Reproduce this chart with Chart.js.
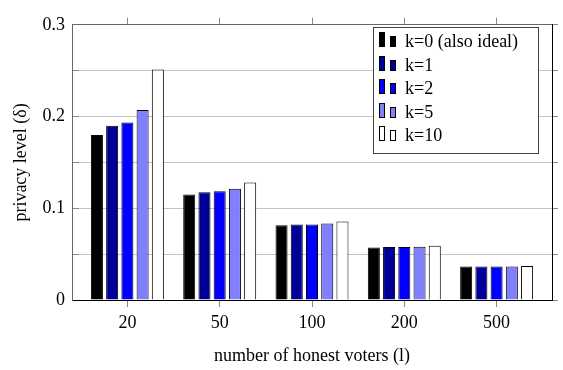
<!DOCTYPE html>
<html>
<head>
<meta charset="utf-8">
<script src="https://cdn.jsdelivr.net/npm/chart.js@4.4.1/dist/chart.umd.min.js"></script>
<style>
  body { margin: 0; background: #fff; }
  canvas { display: block; }
</style>
</head>
<body>
<canvas id="chart" width="563" height="370"></canvas>
<script>
// Données du graphique
const categories = ['20', '50', '100', '200', '500'];
const seriesLabels = ['k=0 (also ideal)', 'k=1', 'k=2', 'k=5', 'k=10'];
const k0 = [0.180, 0.115, 0.0814, 0.0573, 0.0364];
const k1 = [0.190, 0.1175, 0.0824, 0.0577, 0.0364];
const k2 = [0.1934, 0.1186, 0.0824, 0.0577, 0.0364];
const k5 = [0.207, 0.1213, 0.0835, 0.058, 0.0364];
const k10 = [0.2512, 0.128, 0.0855, 0.0592, 0.037];
const yTicks = [0, 0.05, 0.1, 0.15, 0.2, 0.25, 0.3];
const yLabelTicks = [0, 0.1, 0.2, 0.3];

const seriesValues = [k0, k1, k2, k5, k10];
const seriesColors = ['#000000', '#000099', '#0000ff', '#8080ff', '#ffffff'];

const FONT = { family: '"Liberation Serif", "Times New Roman", serif', size: 18 };

// Ticks des catégories (axe x numérique, une unité par groupe)
const categoryTicks = (scale) => {
  scale.ticks = categories.map((_, i) => ({ value: i }));
};
const valueTicks = (scale) => {
  scale.ticks = yTicks.map(v => ({ value: v }));
};

// Légende dessinée dans la zone du graphique (style pgfplots)
const insideLegend = {
  id: 'insideLegend',
  afterDraw(chart) {
    const ctx = chart.ctx;
    const box = { x: 373, y: 27, w: 165, h: 126 };
    ctx.save();
    ctx.fillStyle = '#ffffff';
    ctx.fillRect(box.x, box.y, box.w, box.h);
    ctx.strokeStyle = '#444444';
    ctx.lineWidth = 1;
    ctx.strokeRect(box.x + 0.5, box.y + 0.5, box.w, box.h);

    ctx.font = `${FONT.size}px ${FONT.family}`;
    ctx.textBaseline = 'alphabetic';
    ctx.textAlign = 'left';
    chart.data.datasets.forEach((ds, i) => {
      const base = Math.round(47 + i * 23.5);
      ctx.fillStyle = ds.backgroundColor;
      ctx.strokeStyle = '#000000';
      ctx.fillRect(379, base - 15, 6, 15);
      ctx.strokeRect(379.5, base - 15 + 0.5, 5, 14);
      ctx.fillRect(390, base - 11, 6, 11);
      ctx.strokeRect(390.5, base - 11 + 0.5, 5, 10);
      ctx.fillStyle = '#000000';
      ctx.fillText(ds.label, 405, base);
    });
    ctx.restore();
  }
};

const datasets = seriesValues.map((values, i) => ({
  label: seriesLabels[i],
  data: values.map((v, j) => ({ x: j, y: v })),
  backgroundColor: seriesColors[i],
  borderColor: '#000000',
  borderWidth: 1,
  categoryPercentage: 0.825,
  barPercentage: 0.79,
  xAxisID: 'x',
  yAxisID: 'y'
}));

new Chart(document.getElementById('chart'), {
  type: 'bar',
  data: { datasets: datasets },
  options: {
    responsive: false,
    animation: false,
    devicePixelRatio: 1,
    layout: { padding: 0 },
    plugins: {
      legend: { display: false },
      tooltip: { enabled: false }
    },
    scales: {
      x: {
        type: 'linear',
        position: 'bottom',
        min: -0.6,
        max: 4.6,
        offset: false,
        afterBuildTicks: categoryTicks,
        afterFit: (s) => { s.height = 70; },
        grid: { offset: false, drawOnChartArea: false, tickLength: 7, tickColor: '#888888' },
        border: { color: '#000000', width: 1 },
        ticks: {
          color: '#000000',
          font: FONT,
          padding: 5,
          maxRotation: 0,
          callback: (v) => categories[v]
        },
        title: {
          display: true,
          text: 'number of honest voters (l)',
          color: '#000000',
          font: FONT,
          padding: { top: 0, bottom: 3 }
        }
      },
      xTop: {
        type: 'linear',
        position: 'top',
        display: true,
        min: -0.6,
        max: 4.6,
        offset: false,
        afterBuildTicks: categoryTicks,
        afterFit: (s) => { s.height = 10; },
        grid: { offset: false, drawOnChartArea: false, tickLength: 7, tickColor: '#888888' },
        border: { color: '#666666', width: 1 },
        ticks: { display: false }
      },
      y: {
        type: 'linear',
        position: 'left',
        min: 0,
        max: 0.3,
        afterBuildTicks: valueTicks,
        afterFit: (s) => { s.width = 72; },
        grid: { color: '#c4c4c4', lineWidth: 1, tickLength: -7, tickColor: '#888888' },
        border: { color: '#666666', width: 1 },
        ticks: {
          color: '#000000',
          font: FONT,
          padding: 14,
          callback: (v) => {
            const hit = yLabelTicks.find(t => Math.abs(t - v) < 1e-9);
            return hit === undefined ? '' : String(hit);
          }
        },
        title: {
          display: true,
          text: 'privacy level (δ)',
          color: '#000000',
          font: FONT,
          padding: { top: 10, bottom: 0 }
        }
      },
      yRight: {
        type: 'linear',
        position: 'right',
        display: true,
        min: 0,
        max: 0.3,
        afterBuildTicks: valueTicks,
        afterFit: (s) => { s.width = 11; },
        grid: { drawOnChartArea: false, tickLength: 6, tickColor: '#888888' },
        border: { color: '#000000', width: 1 },
        ticks: { display: false }
      }
    }
  },
  plugins: [insideLegend]
});
</script>
</body>
</html>
